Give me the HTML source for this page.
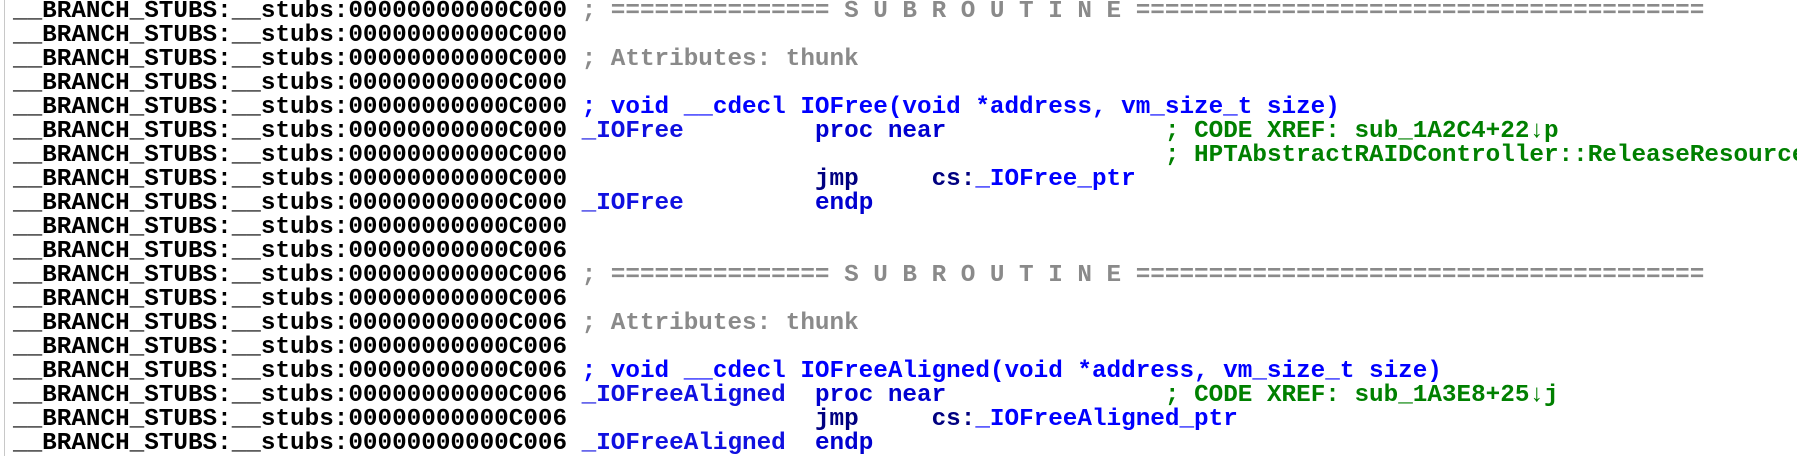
<!DOCTYPE html>
<html><head><meta charset="utf-8"><style>
html,body{margin:0;padding:0;background:#fff;width:1797px;height:456px;overflow:hidden}
.bar{position:absolute;left:4px;top:0;width:1px;height:456px;background:#c8c8c8}
pre{position:absolute;left:13px;top:0px;margin:0;font-family:"Liberation Mono",monospace;font-weight:bold;font-size:24.3px;line-height:24px;color:#000;white-space:pre}
.g{color:#8a8a8a}.b{color:#0000ff}.l{color:#1010e0}.n{color:#000080}.c{color:#008000}.o{color:#0000d0}
</style></head><body><div class="bar"></div>
<pre>__BRANCH_STUBS:__stubs:00000000000C000 <span class="g">; =============== S U B R O U T I N E =======================================</span>
__BRANCH_STUBS:__stubs:00000000000C000
__BRANCH_STUBS:__stubs:00000000000C000 <span class="g">; Attributes: thunk</span>
__BRANCH_STUBS:__stubs:00000000000C000
__BRANCH_STUBS:__stubs:00000000000C000 <span class="b">; void __cdecl IOFree(void *address, vm_size_t size)</span>
__BRANCH_STUBS:__stubs:00000000000C000 <span class="l">_IOFree</span>         <span class="o">proc near</span>               <span class="c">; CODE XREF: sub_1A2C4+22↓p</span>
__BRANCH_STUBS:__stubs:00000000000C000                                         <span class="c">; HPTAbstractRAIDController::ReleaseResource</span>
__BRANCH_STUBS:__stubs:00000000000C000                 <span class="n">jmp     cs:</span><span class="b">_IOFree_ptr</span>
__BRANCH_STUBS:__stubs:00000000000C000 <span class="l">_IOFree</span>         <span class="o">endp</span>
__BRANCH_STUBS:__stubs:00000000000C000
__BRANCH_STUBS:__stubs:00000000000C006
__BRANCH_STUBS:__stubs:00000000000C006 <span class="g">; =============== S U B R O U T I N E =======================================</span>
__BRANCH_STUBS:__stubs:00000000000C006
__BRANCH_STUBS:__stubs:00000000000C006 <span class="g">; Attributes: thunk</span>
__BRANCH_STUBS:__stubs:00000000000C006
__BRANCH_STUBS:__stubs:00000000000C006 <span class="b">; void __cdecl IOFreeAligned(void *address, vm_size_t size)</span>
__BRANCH_STUBS:__stubs:00000000000C006 <span class="l">_IOFreeAligned</span>  <span class="o">proc near</span>               <span class="c">; CODE XREF: sub_1A3E8+25↓j</span>
__BRANCH_STUBS:__stubs:00000000000C006                 <span class="n">jmp     cs:</span><span class="b">_IOFreeAligned_ptr</span>
__BRANCH_STUBS:__stubs:00000000000C006 <span class="l">_IOFreeAligned</span>  <span class="o">endp</span>
</pre></body></html>
